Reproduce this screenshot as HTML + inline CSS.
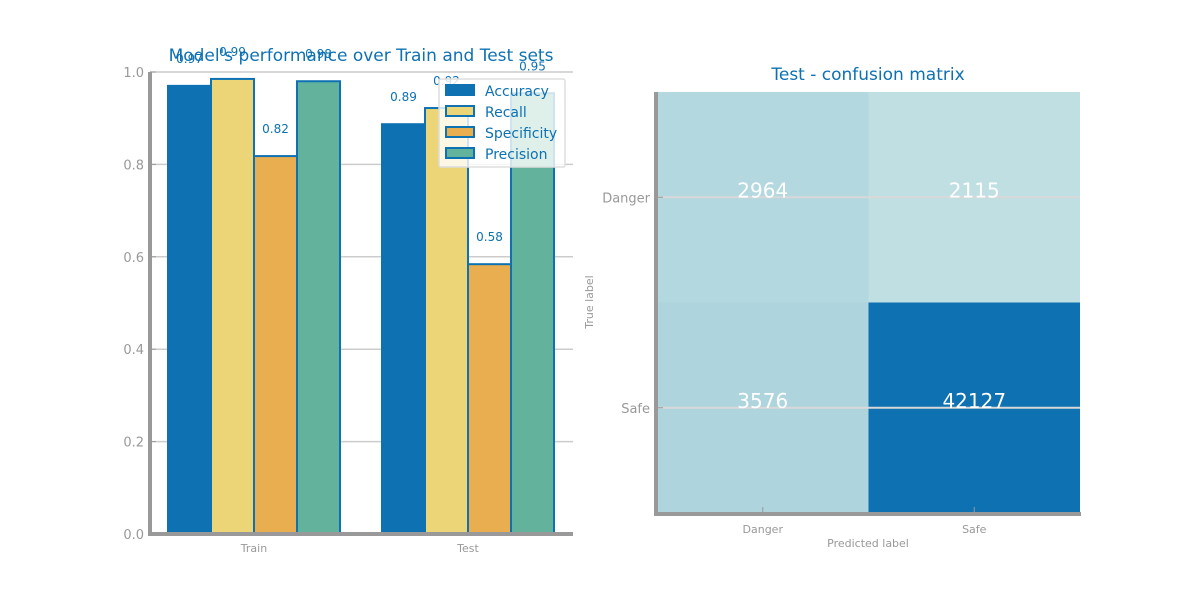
<!DOCTYPE html>
<html><head><meta charset="utf-8"><style>
body{margin:0;background:#fff;font-family:"Liberation Sans","DejaVu Sans",sans-serif}
svg text{font-family:"DejaVu Sans","Liberation Sans",sans-serif}
</style></head><body>
<svg id="s" width="1200" height="600" xmlns="http://www.w3.org/2000/svg"></svg>
<script>
const categories = ["Train", "Test"];
const metrics = ["Accuracy", "Recall", "Specificity", "Precision"];
const accuracyVals = [0.97, 0.887];
const recallVals = [0.985, 0.922];
const specificityVals = [0.818, 0.584];
const precisionVals = [0.98, 0.954];
const valueLabels = [["0.97","0.99","0.82","0.98"],["0.89","0.92","0.58","0.95"]];
const yTicks = [0, 0.2, 0.4, 0.6, 0.8, 1.0];
const yTickLabels = ["0.0","0.2","0.4","0.6","0.8","1.0"];
const cmLabels = ["Danger", "Safe"];
const cmValues = [[2964, 2115],[3576, 42127]];

const S = document.getElementById('s');
const NS = "http://www.w3.org/2000/svg";
function el(tag, attrs, text){const e=document.createElementNS(NS,tag);for(const k in attrs)e.setAttribute(k,attrs[k]);if(text!==undefined)e.textContent=text;S.appendChild(e);return e;}

// Bar chart
const L=150,R=573,T=72,B=534;
const y=v=>B-(B-T)*v;
const xc=i=>254+i*214;
const colors=["#0d71b2","#ecd577","#e8ae50","#62b29c"];
const series=[accuracyVals,recallVals,specificityVals,precisionVals];
const bw=43;
yTicks.forEach((t,i)=>{
 if(i>0){const g=el('line',{x1:L,x2:R,y1:y(t),y2:y(t),stroke:'#cccccc','stroke-width':1.5});
 
 }
 const tk=el('line',{x1:L,x2:L+6,y1:y(t),y2:y(t),stroke:'#999','stroke-width':1});
 
 
 const tl=el('text',{x:L-6,y:y(t)+5,'text-anchor':'end','font-size':13,fill:'#999'},yTickLabels[i]);
 
 
});
categories.forEach((c,i)=>{
 series.forEach((sv,j)=>{
  const x0=xc(i)-2*bw+j*bw;
  const r=el('rect',{x:x0,y:y(sv[i]),width:bw,height:B-y(sv[i]),fill:colors[j],stroke:'#0d71b2','stroke-width':2});
  
  
  const t=el('text',{x:x0+bw/2,y:y(sv[i])-23,'text-anchor':'middle','font-size':12,fill:'#0d71b2'},valueLabels[i][j]);
  
  
 });
 const xl=el('text',{x:xc(i),y:552,'text-anchor':'middle','font-size':11,fill:'#999'},c);
 
 
});
let a=el('line',{x1:L,x2:L,y1:T,y2:B,stroke:'#999','stroke-width':4});


a=el('line',{x1:L-2,x2:R,y1:B,y2:B,stroke:'#999','stroke-width':4});


a=el('text',{x:361,y:61,'text-anchor':'middle','font-size':17,fill:'#0d71b2'},"Model's performance over Train and Test sets");


// legend
a=el('rect',{x:439,y:79,width:126,height:88,fill:'#fff','fill-opacity':0.8,stroke:'#ddd','stroke-width':1.5,rx:2});


metrics.forEach((m,j)=>{
 const ly=85+j*21;
 const r=el('rect',{x:446,y:ly,width:28,height:10,fill:colors[j],stroke:'#0d71b2','stroke-width':2});
 
 
 const t=el('text',{x:485,y:ly+11,'font-size':14,fill:'#0d71b2'},m);
 
 
});

// Confusion matrix
const CL=657,CR=1080,CT=92,CB=513;
const cw=(CR-CL)/2,ch=(CB-CT)/2;
const flat=cmValues.flat();const mn=Math.min(...flat),mx=Math.max(...flat);
const c0=[0xc0,0xdf,0xe2],c1=[0x0d,0x71,0xb2];
function col(v){const f=Math.pow((v-mn)/(mx-mn),0.7);return 'rgb('+c0.map((c,i)=>Math.round(c+(c1[i]-c)*f)).join(',')+')';}
cmValues.forEach((row,r)=>row.forEach((v,c)=>{
 const rc=el('rect',{x:CL+c*cw,y:CT+r*ch,width:cw,height:ch,fill:col(v)});
 
 
}));
cmLabels.forEach((lb,i)=>{
 const yy=CT+ch*(i+0.5);
 let g=el('line',{x1:CL,x2:CR,y1:yy,y2:yy,stroke:'#d8d8d8','stroke-width':2});
 
 
 g=el('line',{x1:CL,x2:CL+6,y1:yy,y2:yy,stroke:'#999','stroke-width':1});
 
 
 g=el('text',{x:CL-7,y:yy+5,'text-anchor':'end','font-size':13,fill:'#999'},lb);
 
 
 const xx=CL+cw*(i+0.5);
 g=el('line',{x1:xx,x2:xx,y1:CB-6,y2:CB,stroke:'#999','stroke-width':1});
 
 
 g=el('text',{x:xx,y:533,'text-anchor':'middle','font-size':11,fill:'#999'},lb);
 
 
});
cmValues.forEach((row,r)=>row.forEach((v,c)=>{
 const t=el('text',{x:CL+cw*(c+0.5),y:CT+ch*(r+0.5),'text-anchor':'middle','font-size':20,fill:'#fff'},String(v));
 
 
}));
a=el('line',{x1:CL-1,x2:CL-1,y1:CT,y2:CB+2,stroke:'#999','stroke-width':4});


a=el('line',{x1:CL-3,x2:CR+1,y1:CB+1,y2:CB+1,stroke:'#999','stroke-width':4});


a=el('text',{x:868,y:80,'text-anchor':'middle','font-size':17,fill:'#0d71b2'},"Test - confusion matrix");


a=el('text',{x:868,y:547,'text-anchor':'middle','font-size':11,fill:'#999'},"Predicted label");


a=el('text',{x:593,y:302,'text-anchor':'middle','font-size':11,fill:'#999',transform:'rotate(-90 593 302)'},"True label");


</script>
</body></html>
